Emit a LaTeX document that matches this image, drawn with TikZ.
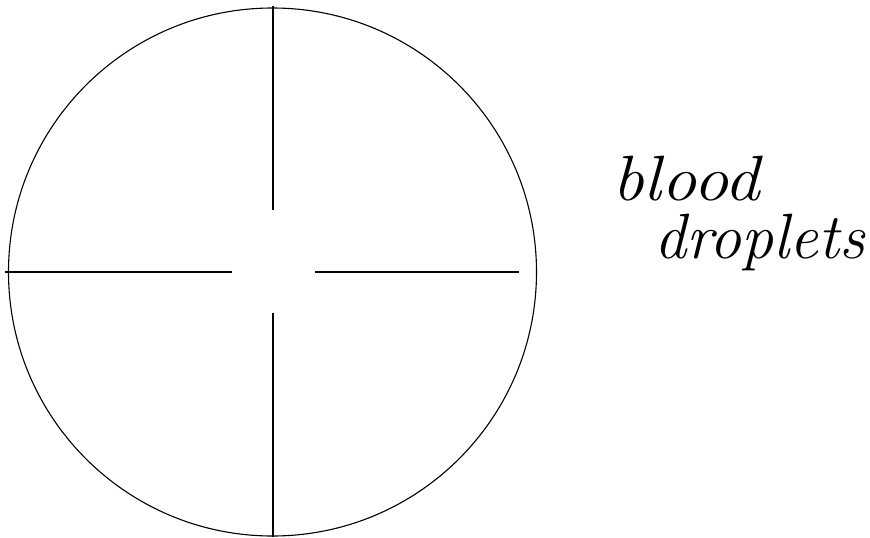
\documentclass[tikz,border=0pt]{standalone}
\begin{document}
\begin{tikzpicture}[x=1pt,y=-1pt,
  ink/.style={line width=1.1pt,black},
  hand/.style={font=\fontsize{64}{70}\selectfont\itshape,inner sep=0pt,anchor=base west}]
\useasboundingbox (0,0) rectangle (870,538);
\coordinate (c) at (272.5,272);
\draw[ink] (c) circle[radius=264];
\coordinate (t1) at (273,6);   \coordinate (t2) at (273,210);
\coordinate (b1) at (273,313); \coordinate (b2) at (273,537);
\coordinate (l1) at (5,272);   \coordinate (l2) at (232,272);
\coordinate (r1) at (315,272); \coordinate (r2) at (519,272);
\draw[ink] (t1) -- (t2);
\draw[ink] (b1) -- (b2);
\draw[ink] (l1) -- (l2);
\draw[ink] (r1) -- (r2);
\node[hand,xscale=1.1] (blood) at (612,200) {blood};
\node[hand] (drop) at (654,258) {droplets};
\end{tikzpicture}
\end{document}
